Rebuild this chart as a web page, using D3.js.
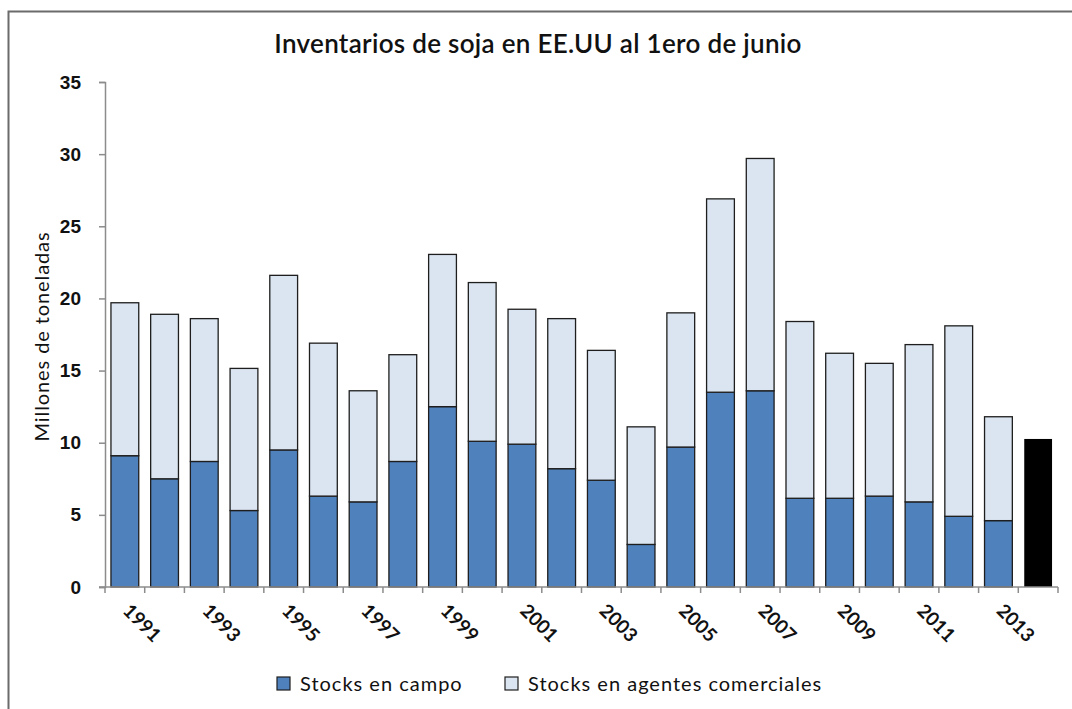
<!DOCTYPE html>
<html>
<head>
<meta charset="utf-8">
<script src="https://cdn.jsdelivr.net/npm/d3@7"></script>
<style>
  body { margin: 0; background: #fff; }
  svg { font-family: Lato, "Open Sans", sans-serif; }
</style>
</head>
<body>
<div id="chart"></div>
<script>
// data (millones de toneladas)
var years = d3.range(1991, 2015);
var stocksCampo = [9.1, 7.5, 8.7, 5.3, 9.5, 6.3, 5.9, 8.7, 12.5, 10.1, 9.9, 8.2, 7.4, 2.95,
                   9.7, 13.5, 13.6, 6.15, 6.15, 6.3, 5.9, 4.9, 4.6, null];
var stocksComerciales = [10.6, 11.4, 9.9, 9.85, 12.1, 10.6, 7.7, 7.4, 10.55, 11.0, 9.35, 10.4, 9.0, 8.15,
                         9.3, 13.4, 16.1, 12.25, 10.05, 9.2, 10.9, 13.2, 7.2, null];
var estimado = [null, null, null, null, null, null, null, null, null, null, null, null, null, null,
                null, null, null, null, null, null, null, null, null, 10.26];
var yTicks = [0, 5, 10, 15, 20, 25, 30, 35];
var xLabels = d3.range(1991, 2014, 2);
var seriesNames = ["Stocks en campo", "Stocks en agentes comerciales"];

var width = 1072, height = 709;
var margin = {top: 82, right: 14, bottom: 122, left: 105};

var svg = d3.select("#chart").append("svg")
    .attr("width", width)
    .attr("height", height);

// outer frame of the chart object
svg.append("rect")
    .attr("x", 8.5).attr("y", 11.5)
    .attr("width", 1200).attr("height", 900)
    .attr("fill", "none")
    .attr("stroke", "#6b6b6b")
    .attr("stroke-width", 2);

svg.append("text")
    .attr("x", 538).attr("y", 53)
    .attr("text-anchor", "middle")
    .style("font-size", "26px")
    .style("font-weight", 600)
    .style("letter-spacing", "0.3px")
    .attr("fill", "#111")
    .text("Inventarios de soja en EE.UU al 1ero de junio");

var x = d3.scaleBand()
    .domain(years)
    .range([margin.left, width - margin.right])
    .paddingInner(0.3)
    .paddingOuter(0.15);

var y = d3.scaleLinear()
    .domain([0, 35])
    .range([height - margin.bottom, margin.top]);

var step = x.step();
var half = step * 0.15;

// y axis
var yAxis = svg.append("g")
    .attr("transform", "translate(" + margin.left + ",0)")
    .call(d3.axisLeft(y).tickValues(yTicks).tickSize(6).tickPadding(18));
yAxis.select(".domain").attr("stroke", "#8c8c8c").attr("stroke-width", 1.5);
yAxis.selectAll(".tick line").attr("stroke", "#8c8c8c").attr("stroke-width", 1.5);
yAxis.selectAll(".tick text")
    .style("font-size", "19px")
    .style("font-weight", "bold")
    .attr("fill", "#111");

svg.append("text")
    .attr("transform", "translate(49," + (y(17.5) + 2) + ") rotate(-90)")
    .attr("text-anchor", "middle")
    .style("font-size", "20px")
    .style("letter-spacing", "0.9px")
    .attr("fill", "#111")
    .text("Millones de toneladas");

// stacked bars
var rows = years.map(function(yr, i) {
    return {year: yr, campo: stocksCampo[i], com: stocksComerciales[i], est: estimado[i]};
});

var bars = svg.append("g");
rows.forEach(function(d) {
    if (d.campo != null) {
        bars.append("rect")
            .attr("x", x(d.year))
            .attr("width", x.bandwidth())
            .attr("y", y(d.campo))
            .attr("height", y(0) - y(d.campo))
            .attr("fill", "#4f81bd")
            .attr("stroke", "#1e1e1e")
            .attr("stroke-width", 1.3);
        bars.append("rect")
            .attr("x", x(d.year))
            .attr("width", x.bandwidth())
            .attr("y", y(d.campo + d.com))
            .attr("height", y(d.campo) - y(d.campo + d.com))
            .attr("fill", "#dbe5f1")
            .attr("stroke", "#1e1e1e")
            .attr("stroke-width", 1.3);
    }
    if (d.est != null) {
        bars.append("rect")
            .attr("x", x(d.year))
            .attr("width", x.bandwidth())
            .attr("y", y(d.est))
            .attr("height", y(0) - y(d.est))
            .attr("fill", "#000");
    }
});

// x axis: line with ticks at category boundaries
var x0 = margin.left, x1 = x(years[years.length - 1]) + x.bandwidth() + half;
svg.append("line")
    .attr("x1", x0 - 6).attr("x2", x1)
    .attr("y1", y(0)).attr("y2", y(0))
    .attr("stroke", "#8c8c8c").attr("stroke-width", 1.5);
svg.selectAll(".xtick")
    .data(years.concat([null]))
    .enter().append("line")
    .attr("x1", function(d, i) { return x0 + i * step; })
    .attr("x2", function(d, i) { return x0 + i * step; })
    .attr("y1", y(0)).attr("y2", y(0) + 6)
    .attr("stroke", "#8c8c8c").attr("stroke-width", 1.5);

svg.selectAll(".xlabel")
    .data(xLabels)
    .enter().append("text")
    .attr("transform", function(d) {
        return "translate(" + (x(d) + x.bandwidth() / 2 - 3) + "," + (y(0) + 25) + ") rotate(45)";
    })
    .style("font-size", "19px")
    .style("font-weight", "bold")
    .attr("fill", "#111")
    .text(function(d) { return d; });

// legend
var legend = [
    {name: seriesNames[0], color: "#4f81bd", x: 277},
    {name: seriesNames[1], color: "#dbe5f1", x: 505}
];
legend.forEach(function(l) {
    svg.append("rect")
        .attr("x", l.x).attr("y", 677)
        .attr("width", 13).attr("height", 13)
        .attr("fill", l.color)
        .attr("stroke", "#1e1e1e").attr("stroke-width", 1.2);
    svg.append("text")
        .attr("x", l.x + 23).attr("y", 691)
        .style("font-size", "20px")
        .style("letter-spacing", "1px")
        .attr("fill", "#111")
        .text(l.name);
});
</script>
</body>
</html>
